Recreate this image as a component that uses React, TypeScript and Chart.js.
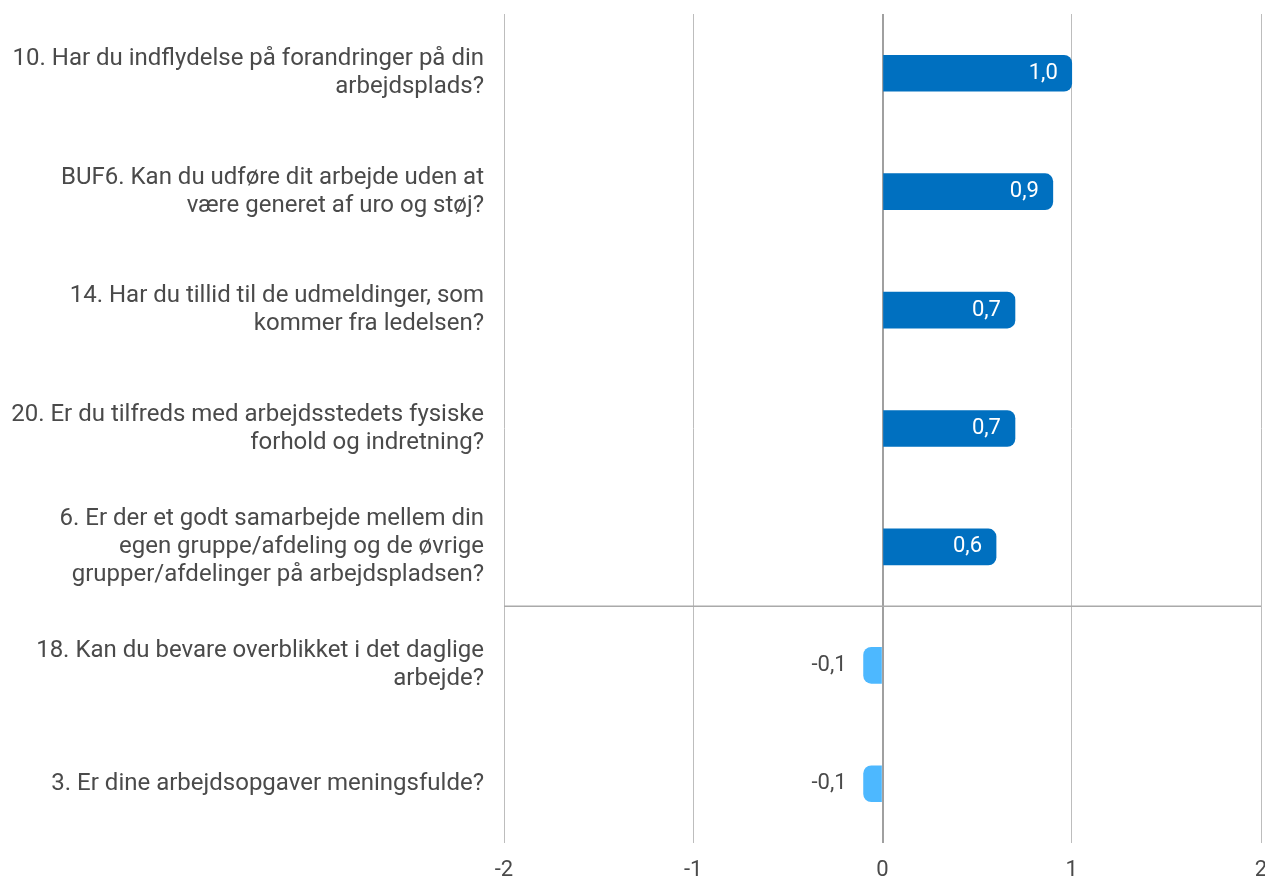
import React, { useEffect, useRef } from "react";
import { Chart, registerables } from "chart.js";

Chart.register(...registerables);

const categories: string[][] = [
  ["10. Har du indflydelse på forandringer på din", "arbejdsplads?"],
  ["BUF6. Kan du udføre dit arbejde uden at", "være generet af uro og støj?"],
  ["14. Har du tillid til de udmeldinger, som", "kommer fra ledelsen?"],
  ["20. Er du tilfreds med arbejdsstedets fysiske", "forhold og indretning?"],
  ["6. Er der et godt samarbejde mellem din", "egen gruppe/afdeling og de øvrige", "grupper/afdelinger på arbejdspladsen?"],
  ["18. Kan du bevare overblikket i det daglige", "arbejde?"],
  ["3. Er dine arbejdsopgaver meningsfulde?"],
];
const values: number[] = [1.0, 0.9, 0.7, 0.7, 0.6, -0.1, -0.1];
const valueLabels: string[] = ["1,0", "0,9", "0,7", "0,7", "0,6", "-0,1", "-0,1"];
const separatorAfterIndex = 4;

const POS = "#0070C0";
const NEG = "#4DB8FF";
const FONT = "Roboto";

export default function App() {
  const ref = useRef<HTMLCanvasElement | null>(null);
  useEffect(() => {
    if (!ref.current) return;
    const labelPlugin = {
      id: "valueLabels",
      afterDatasetsDraw(chart: any) {
        const ctx = chart.ctx;
        const meta = chart.getDatasetMeta(0);
        ctx.save();
        ctx.font = `22px ${FONT}`;
        ctx.textBaseline = "middle";
        meta.data.forEach((bar: any, i: number) => {
          const v = values[i];
          ctx.textAlign = "right";
          if (v >= 0) {
            ctx.fillStyle = "#ffffff";
            ctx.fillText(valueLabels[i], bar.x - 14, bar.y);
          } else {
            ctx.fillStyle = "#4a4a4a";
            ctx.fillText(valueLabels[i], bar.x - 17, bar.y);
          }
        });
        ctx.restore();
      },
    };
    const sepPlugin = {
      id: "separator",
      beforeDatasetsDraw(chart: any) {
        const y = chart.scales.y;
        const area = chart.chartArea;
        const py = (y.getPixelForValue(separatorAfterIndex) + y.getPixelForValue(separatorAfterIndex + 1)) / 2;
        const ctx = chart.ctx;
        ctx.save();
        ctx.strokeStyle = "#aaaaaa";
        ctx.lineWidth = 1.5;
        ctx.beginPath();
        ctx.moveTo(area.left, py);
        ctx.lineTo(area.right, py);
        ctx.stroke();
        ctx.restore();
      },
    };
    const chart = new Chart(ref.current, {
      type: "bar",
      data: {
        labels: categories,
        datasets: [
          {
            data: values,
            backgroundColor: values.map((v) => (v >= 0 ? POS : NEG)),
            borderRadius: 8,
            borderSkipped: "start",
            barThickness: 36,
          },
        ],
      },
      options: {
        indexAxis: "y",
        animation: false,
        responsive: true,
        maintainAspectRatio: false,
        layout: { padding: { top: 14, right: 4, left: 0, bottom: 0 } },
        plugins: { legend: { display: false }, tooltip: { enabled: false } },
        scales: {
          x: {
            min: -2,
            max: 2,
            border: { display: false },
            grid: {
              drawTicks: false,
              color: (c: any) => (c.tick && c.tick.value === 0 ? "#a0a0a0" : "#bdbdbd"),
              lineWidth: (c: any) => (c.tick && c.tick.value === 0 ? 2 : 1),
            },
            afterFit: (s: any) => {
              s.height = 34;
              s.paddingLeft = 0;
              s.paddingRight = 0;
            },
            ticks: {
              stepSize: 1,
              padding: 14,
              color: "#4a4a4a",
              font: { family: FONT, size: 22, lineHeight: 1.2 },
            },
          },
          y: {
            border: { display: false },
            grid: { display: false, drawTicks: false },
            afterFit: (s: any) => {
              s.width = 504;
              s.paddingTop = 0;
              s.paddingBottom = 0;
            },
            ticks: {
              padding: 20,
              color: "#4a4a4a",
              font: { family: FONT, size: 24, lineHeight: 28 / 24 },
            },
          },
        },
      },
      plugins: [sepPlugin, labelPlugin],
    });
    return () => chart.destroy();
  }, []);
  return (
    <div style={{ position: "fixed", left: 0, top: 0, width: 1265, height: 877 }}>
      <canvas ref={ref} />
    </div>
  );
}
